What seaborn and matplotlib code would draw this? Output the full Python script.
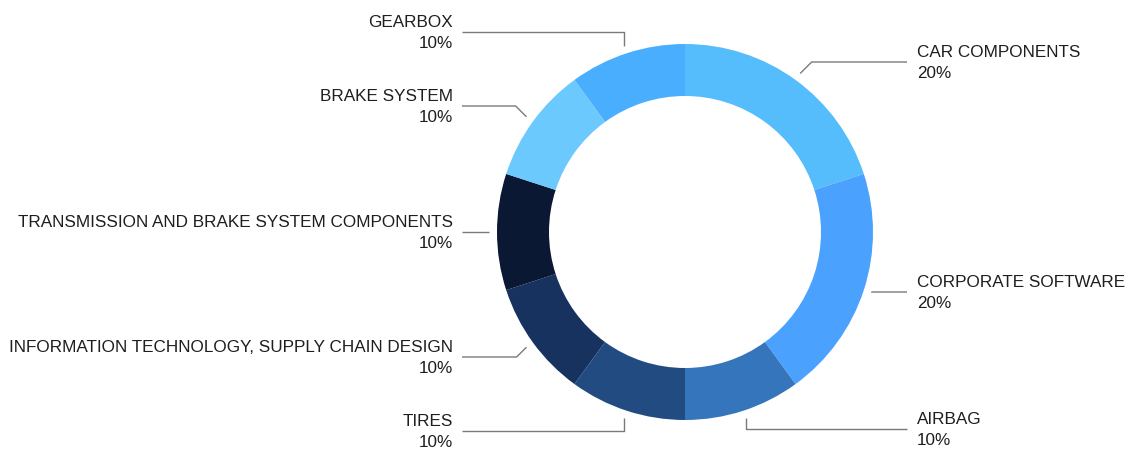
import numpy as np
import matplotlib
matplotlib.use("Agg")
import matplotlib.pyplot as plt
import seaborn as sns

# Share of business by segment (percent)
categories = [
    "CAR COMPONENTS",
    "CORPORATE SOFTWARE",
    "AIRBAG",
    "TIRES",
    "INFORMATION TECHNOLOGY, SUPPLY CHAIN DESIGN",
    "TRANSMISSION AND BRAKE SYSTEM COMPONENTS",
    "BRAKE SYSTEM",
    "GEARBOX",
]
shares = [20, 20, 10, 10, 10, 10, 10, 10]

colors = ["#55bdfc", "#4aa1fe", "#3475bb", "#224c81", "#17325f",
          "#0a1834", "#6bc9fe", "#4aaefe"]

# label baseline rows (pixel rows from the top of the canvas)
label_rows = [62, 292, 429, 431, 357, 231, 106, 32]

sns.set_theme(style="white")
plt.rcParams["font.family"] = ["Liberation Sans", "DejaVu Sans"]

W, H = 1129, 450
fig = plt.figure(figsize=(W / 100, H / 100), dpi=100)
ax = fig.add_axes([0, 0, 1, 1])

cx, cy = 685, H - 232
radius = 188
ring = 52

wedges, _ = ax.pie(
    shares,
    colors=colors,
    startangle=90,
    counterclock=False,
    radius=radius,
    center=(cx, cy),
    wedgeprops=dict(width=ring, linewidth=0),
    frame=True,
)
ax.set_xlim(0, W)
ax.set_ylim(0, H)
ax.set_aspect("equal")
ax.axis("off")

total = sum(shares)
line_color = "#7a7a7a"
text_color = "#1e1e1e"
fs = 12.3
left_end, right_end = 462, 907
anchor_r = radius + 8

for w, name, val, row in zip(wedges, categories, shares, label_rows):
    mid = np.deg2rad((w.theta1 + w.theta2) / 2)
    ax_x = cx + anchor_r * np.cos(mid)
    ax_y = cy + anchor_r * np.sin(mid)
    ly = H - row
    right = np.cos(mid) > 0
    dy = abs(ly - ax_y)
    if abs(np.sin(mid)) > 0.9:
        ex = ax_x
    elif abs(np.sin(mid)) < 0.1:
        ex = ax_x
        ly = ax_y
    else:
        ex = ax_x + (dy if right else -dy)
    end = right_end if right else left_end
    ax.plot([ax_x, ex, end], [ax_y, ly, ly], color=line_color, lw=1.0,
            solid_capstyle="butt")
    tx = end + 10 if right else end - 9
    ha = "left" if right else "right"
    ax.text(tx, ly + 5, name, ha=ha, va="baseline", fontsize=fs, color=text_color)
    ax.text(tx, ly - 16, f"{val / total * 100:.0f}%", ha=ha, va="baseline",
            fontsize=fs, color=text_color)

fig.savefig("out.png", dpi=100, facecolor="white")
